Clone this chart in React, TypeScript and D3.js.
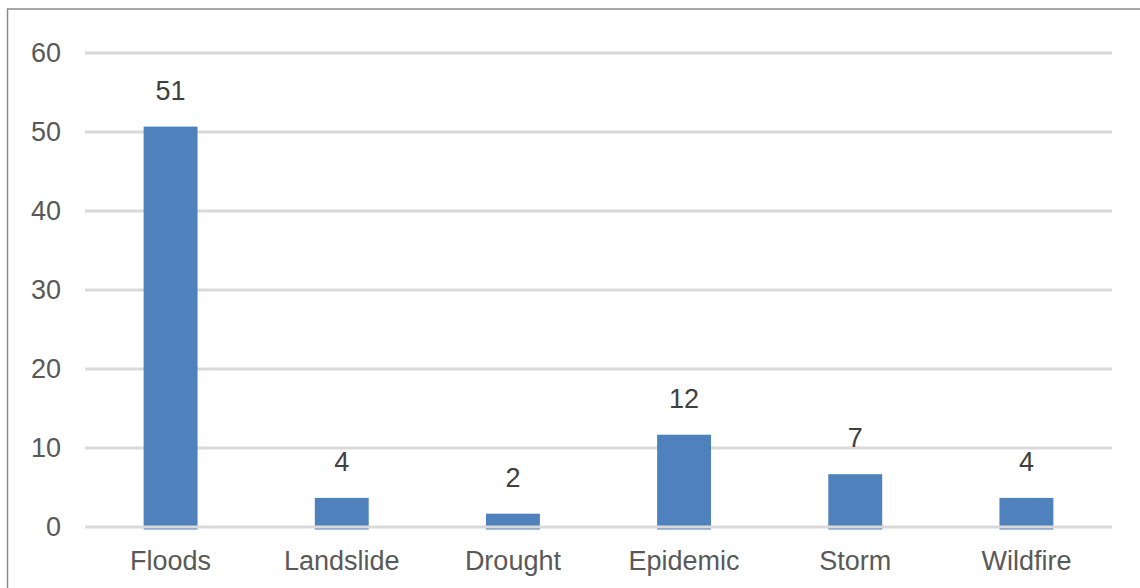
import * as d3 from 'd3'

const categories = ['Floods', 'Landslide', 'Drought', 'Epidemic', 'Storm', 'Wildfire']
const values = [51, 4, 2, 12, 7, 4]
const yTicks = [0, 10, 20, 30, 40, 50, 60]

const W = 1140
const H = 588
const margin = { left: 85, right: 28, top: 53, bottom: 61 }
const FONT = 'Liberation Sans, Arial, sans-serif'
const FS = 27

export default function App() {
  const x = d3.scaleBand<string>()
    .domain(categories)
    .range([margin.left, W - margin.right])
    .paddingInner(0.685)
    .paddingOuter(0.3425)
  const y = d3.scaleLinear().domain([0, 60]).range([H - margin.bottom, margin.top])
  const off = 2.5 // bars sit a touch below the zero line, as in the source

  return (
    <svg width={W} height={H} style={{ position: 'fixed', left: 0, top: 0, background: '#fff' }}>
      <rect x={7.5} y={9} width={W + 10} height={H + 10} fill="#fff" stroke="#8c8c8c" strokeWidth={1.5} />
      {yTicks.map(t => (
        <g key={t}>
          {t > 0 && <line x1={margin.left} x2={W - margin.right} y1={y(t)} y2={y(t)} stroke="#d9d9d9" strokeWidth={3} />}
          <text x={61} y={y(t)} dy="0.35em" textAnchor="end" fontFamily={FONT} fontSize={FS} fill="#595959">{t}</text>
        </g>
      ))}
      {categories.map((c, i) => (
        <g key={c}>
          <rect x={x(c)} y={y(values[i]) + off} width={x.bandwidth()} height={y(0) - y(values[i])} fill="#4f81bd" />
          <text x={x(c)! + x.bandwidth() / 2} y={y(values[i]) + off - 27} textAnchor="middle" fontFamily={FONT} fontSize={FS} fill="#404040">{values[i]}</text>
          <text x={x(c)! + x.bandwidth() / 2} y={570} textAnchor="middle" fontFamily={FONT} fontSize={FS} fill="#595959">{c}</text>
        </g>
      ))}
      <line x1={margin.left} x2={W - margin.right} y1={y(0)} y2={y(0)} stroke="#d9d9d9" strokeWidth={3} />
    </svg>
  )
}
